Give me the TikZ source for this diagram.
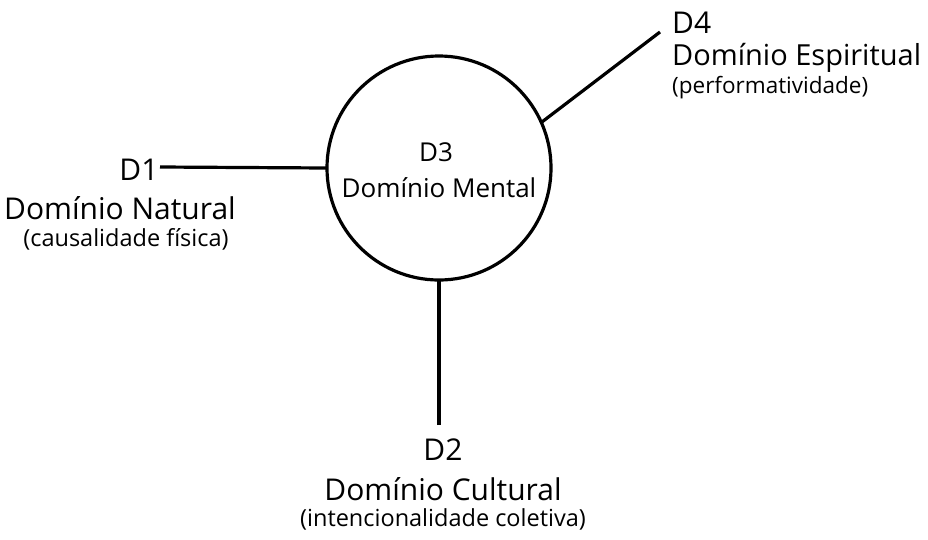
\documentclass[tikz,border=0pt]{standalone}
\usepackage{fontspec}
\setmainfont{Open Sans}
\begin{document}
\begin{tikzpicture}[x=1pt,y=-1pt,
  link/.style={line width=3.2pt},
  hub/.style={circle,draw,line width=3.2pt,minimum size=224pt,inner sep=0pt,outer sep=0pt},
  txtbig/.style={inner sep=0pt,font=\fontsize{30}{35}\selectfont},
  txtmid/.style={inner sep=0pt,font=\fontsize{26}{31}\selectfont},
  txtsmall/.style={inner sep=0pt,font=\fontsize{23.5}{28}\selectfont}]
\useasboundingbox (0,0) rectangle (928,539);

% central domain
\node[hub] (d3) at (439,168) {};
\node[txtmid,anchor=base] (d3a) at (436,161) {D3};
\node[txtmid,anchor=base] (d3b) at (439,197) {Domínio Mental};

% free ends of the connectors
\coordinate (e1) at (160,167);
\coordinate (e2) at (439,425);
\coordinate (e4) at (660,32);

\draw[link] (e1) -- (d3.west);
\draw[link] (e2) -- (d3.south);
\draw[link] (e4) -- (d3.24);

% D1
\node[txtbig,anchor=base] (d1a) at (139,180) {D1};
\node[txtbig,anchor=base] (d1b) at (120,219) {Domínio Natural};
\node[txtsmall,anchor=base] (d1c) at (126,246) {(causalidade física)};

% D2
\node[txtbig,anchor=base] (d2a) at (443,460) {D2};
\node[txtbig,anchor=base] (d2b) at (443,500) {Domínio Cultural};
\node[txtsmall,anchor=base] (d2c) at (443,526) {(intencionalidade coletiva)};

% D4
\node[txtbig,anchor=base west] (d4a) at (672,33) {D4};
\node[txtbig,anchor=base west,font=\fontsize{29}{34}\selectfont] (d4b) at (672,65) {Domínio Espiritual};
\node[txtsmall,anchor=base west,font=\fontsize{22.5}{27}\selectfont] (d4c) at (672,93) {(performatividade)};
\end{tikzpicture}
\end{document}
